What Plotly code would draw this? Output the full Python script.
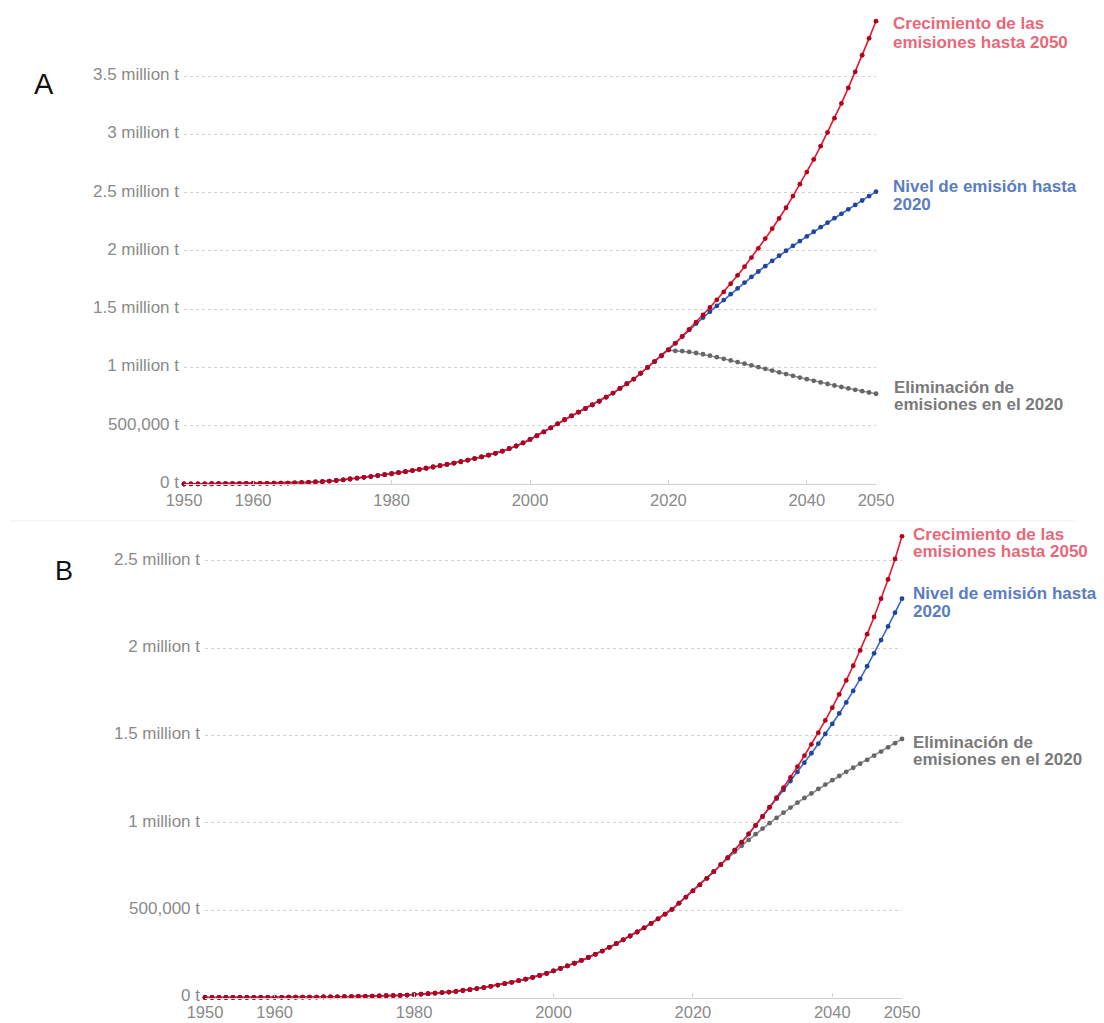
import numpy as np
import plotly.graph_objects as go

# ---------------------------------------------------------------
# Data (thousand tonnes)
# ---------------------------------------------------------------
hist_years = list(range(1950, 2021))
proj_years = list(range(2021, 2051))

# Panel A: historical emissions 1950-2020
a_hist = [
    0, 0.5, 1, 1.5, 2, 2.5, 3, 3.5, 4, 4.5,
    5, 5.5, 6, 6.5, 7, 8, 10, 12, 14, 17,
    20, 25, 30, 36, 43, 50, 57, 64, 72, 80,
    88, 97, 106, 115, 125, 135, 146, 157, 168, 179,
    191, 204, 218, 232, 247, 263, 282, 303, 326, 352,
    382, 414, 447, 481, 516, 551, 584, 616, 647, 678,
    710, 745, 780, 820, 860, 900, 950, 1000, 1050, 1100, 1150,
]
# Panel A: scenarios 2021-2050
a_growth = [
    1208, 1267, 1327, 1388, 1450, 1514, 1580, 1648, 1718, 1790,
    1864, 1942, 2022, 2105, 2190, 2278, 2370, 2470, 2572, 2676,
    2784, 2898, 3016, 3138, 3265, 3398, 3536, 3678, 3823, 3970,
]
a_level = [
    1207, 1265, 1322, 1376, 1428, 1478, 1528, 1578, 1628, 1678,
    1728, 1776, 1823, 1869, 1914, 1958, 2001, 2043, 2084, 2124,
    2164, 2203, 2242, 2280, 2318, 2356, 2394, 2432, 2470, 2508,
]
a_elim = [
    1142, 1140, 1133, 1124, 1113, 1101, 1088, 1074, 1060, 1046,
    1032, 1018, 1003, 988, 973, 958, 943, 928, 913, 899,
    885, 871, 858, 845, 832, 820, 808, 796, 785, 774,
]

# Panel B: historical emissions 1950-2020
b_hist = [
    0, 0, 0, 0, 0, 0.5, 0.5, 0.5, 0.5, 1,
    1, 1, 1.5, 1.5, 2, 2, 2.5, 3, 3.5, 4,
    4.5, 5, 6, 7, 8, 9, 10, 11, 12, 14,
    16, 19, 22, 25, 28, 31, 35, 40, 45, 51,
    57, 64, 71, 79, 87, 96, 105, 115, 126, 138,
    152, 166, 181, 196, 212, 229, 247, 266, 287, 308,
    330, 352, 375, 399, 424, 450, 477, 505, 540, 575, 610,
]
# Panel B: scenarios 2021-2050
b_growth = [
    645, 682, 720, 760, 801, 844, 889, 936, 985, 1036,
    1089, 1144, 1201, 1260, 1321, 1384, 1449, 1516, 1586, 1659,
    1735, 1815, 1899, 1987, 2080, 2178, 2283, 2393, 2510, 2640,
]
b_level = [
    645, 682, 720, 760, 801, 844, 889, 936, 985, 1036,
    1089, 1138, 1188, 1239, 1291, 1344, 1398, 1453, 1509, 1566,
    1626, 1689, 1755, 1824, 1896, 1970, 2046, 2124, 2203, 2283,
]
b_elim = [
    645, 682, 720, 760, 797, 833, 868, 902, 935, 967,
    998, 1028, 1058, 1087, 1115, 1142, 1168, 1194, 1219, 1244,
    1268, 1292, 1315, 1338, 1360, 1384, 1408, 1432, 1456, 1480,
]

x_tickvals = [1950, 1960, 1980, 2000, 2020, 2040, 2050]
a_tickvals = [0, 500000, 1000000, 1500000, 2000000, 2500000, 3000000, 3500000]
a_ticktext = ["0 t", "500,000 t", "1 million t", "1.5 million t", "2 million t",
              "2.5 million t", "3 million t", "3.5 million t"]
b_tickvals = a_tickvals[:6]
b_ticktext = a_ticktext[:6]

labels_growth = ["Crecimiento de las", "emisiones hasta 2050"]
labels_level = ["Nivel de emisión hasta", "2020"]
labels_elim = ["Eliminación de", "emisiones en el 2020"]

# ---------------------------------------------------------------
# Styling
# ---------------------------------------------------------------
W, H = 1104, 1023
FONT = "Liberation Sans, Arial, Helvetica, sans-serif"
TICK_COLOR = "#8a8a8a"

series_style = {
    "elim": dict(line="#8c8c8c", marker="#666666", label="#7a7a7a"),
    "level": dict(line="#3a68c8", marker="#22449a", label="#5a7dbf"),
    "growth": dict(line="#e8162f", marker="#b5001b", label="#e8687a"),
}


def px_x(p):
    return p / W


def px_y(p):
    return 1 - p / H


years_all = hist_years + proj_years


def full(hist, proj):
    return np.array(hist + proj, dtype=float) * 1000.0


fig = go.Figure()

panels = [
    ("x", "y", a_hist, {"elim": a_elim, "level": a_level, "growth": a_growth}),
    ("x2", "y2", b_hist, {"elim": b_elim, "level": b_level, "growth": b_growth}),
]

for xa, ya, hist, scen in panels:
    for key in ["elim", "level", "growth"]:
        st = series_style[key]
        fig.add_trace(go.Scatter(
            x=years_all, y=full(hist, scen[key]),
            mode="lines+markers",
            line=dict(color=st["line"], width=1.6),
            marker=dict(color=st["marker"], size=4.8),
            cliponaxis=False, showlegend=False, hoverinfo="skip",
            xaxis=xa, yaxis=ya,
        ))

common_x = dict(
    range=[1950, 2050], tickvals=x_tickvals, showgrid=False, zeroline=False,
    showline=True, linecolor="#d2d2d2", linewidth=1.2,
    ticks="inside", ticklen=4, tickcolor="#d2d2d2",
    tickfont=dict(family=FONT, size=16.5, color=TICK_COLOR),
    automargin=False, fixedrange=True,
)
common_y = dict(
    showgrid=True, gridcolor="#d0d0d0", griddash="dot", gridwidth=1,
    zeroline=False, showline=False, ticks="", ticklabelstandoff=4,
    ticklabelshift=-2,
    tickfont=dict(family=FONT, size=17, color=TICK_COLOR),
    automargin=False, fixedrange=True,
)

# Panel A geometry (pixels)
a_x0, a_x1 = 184, 876
a_y0 = 484
a_scale = 116.57  # px per million t
a_top = 4.0
# Panel B geometry (pixels)
b_x0, b_x1 = 205, 902
b_y0 = 997.5
b_scale = 174.7
b_top = 2.75

fig.update_layout(
    width=W, height=H,
    margin=dict(l=0, r=0, t=0, b=0, autoexpand=False),
    paper_bgcolor="white", plot_bgcolor="white",
    xaxis=dict(common_x, domain=[px_x(a_x0), px_x(a_x1)], anchor="y",
               ticklabelstandoff=1),
    yaxis=dict(common_y, domain=[px_y(a_y0), px_y(a_y0 - a_top * a_scale)],
               range=[0, a_top * 1e6], tickvals=a_tickvals, ticktext=a_ticktext,
               anchor="x"),
    xaxis2=dict(common_x, domain=[px_x(b_x0), px_x(b_x1)], anchor="y2",
                ticklabelstandoff=0),
    yaxis2=dict(common_y, domain=[px_y(b_y0), px_y(b_y0 - b_top * b_scale)],
                range=[0, b_top * 1e6], tickvals=b_tickvals, ticktext=b_ticktext,
                anchor="x2"),
)

annotations = []


def add_label(lines, color, x, ys):
    for text, y in zip(lines, ys):
        annotations.append(dict(
            text=text, xref="paper", yref="paper",
            x=px_x(x), y=px_y(y), xanchor="left", yanchor="middle",
            showarrow=False,
            font=dict(family=FONT, size=17, color=color, weight="bold"),
        ))


add_label(labels_growth, series_style["growth"]["label"], 891, [24, 42.5])
add_label(labels_level, series_style["level"]["label"], 891, [186, 204])
add_label(labels_elim, series_style["elim"]["label"], 892, [387, 404.5])

add_label(labels_growth, series_style["growth"]["label"], 911, [534, 551])
add_label(labels_level, series_style["level"]["label"], 911, [593.5, 611])
add_label(labels_elim, series_style["elim"]["label"], 911, [742, 759])

annotations.append(dict(text="A", xref="paper", yref="paper", x=px_x(44), y=px_y(84),
                        xanchor="center", yanchor="middle", showarrow=False,
                        font=dict(family=FONT, size=29, color="#111111")))
annotations.append(dict(text="B", xref="paper", yref="paper", x=px_x(64), y=px_y(571),
                        xanchor="center", yanchor="middle", showarrow=False,
                        font=dict(family=FONT, size=27, color="#111111")))

fig.update_layout(annotations=annotations)

# faint divider between the two panels
fig.add_shape(type="line", xref="paper", yref="paper",
              x0=px_x(10), x1=px_x(1075), y0=px_y(521), y1=px_y(521),
              line=dict(color="#efefef", width=1))

fig.write_html("out.html")
